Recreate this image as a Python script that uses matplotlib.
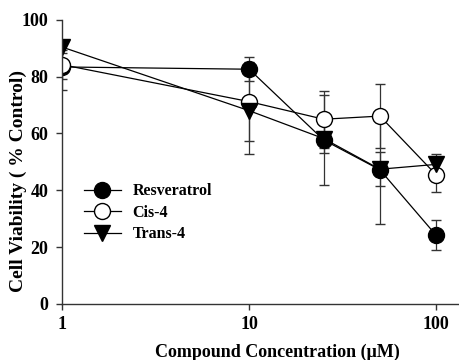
import numpy as np
import matplotlib
matplotlib.use("Agg")
import matplotlib.pyplot as plt
from matplotlib.lines import Line2D

# Concentrations (uM)
conc = [1, 10, 25, 50, 100]

# Cell viability (% control) and error bars
resveratrol = [83.4, 82.6, 57.7, 47.2, 24.1]
resveratrol_err = [8.0, 4.2, 16.0, 19.0, 5.3]
cis4 = [84.2, 71.2, 65.0, 66.1, 45.4]
cis4_err = [5.0, 14.0, 10.0, 11.4, 6.0]
trans4 = [90.4, 68.0, 58.2, 47.4, 49.1]
trans4_err = [2.0, 15.4, 5.0, 6.0, 3.5]

series_names = ["Resveratrol", "Cis-4", "Trans-4"]

plt.rcParams["font.family"] = ["Liberation Serif", "DejaVu Serif"]
plt.rcParams["font.weight"] = "bold"

fig = plt.figure(figsize=(4.6, 3.6), dpi=100)
ax = fig.add_axes([0.135, 0.156, 0.865, 0.789])

styles = [
    dict(marker="o", mfc="black", mec="black"),
    dict(marker="o", mfc="white", mec="black"),
    dict(marker="v", mfc="black", mec="black"),
]
data = [(resveratrol, resveratrol_err), (cis4, cis4_err), (trans4, trans4_err)]

for (vals, errs), st in zip(data, styles):
    ax.errorbar(conc, vals, yerr=errs, color="black", lw=0.9, ms=11.5,
                mew=1.0, capsize=3.5, elinewidth=0.9, ecolor="#333333",
                capthick=0.9, **st)

ax.set_xscale("log")
ax.set_xlim(1, 134)
ax.set_ylim(0, 100)
ax.set_xticks([1, 10, 100])
ax.set_xticklabels(["1", "10", "100"])
ax.xaxis.set_minor_locator(matplotlib.ticker.NullLocator())
ax.set_yticks([0, 20, 40, 60, 80, 100])

for side in ["top", "right"]:
    ax.spines[side].set_visible(False)
for side in ["left", "bottom"]:
    ax.spines[side].set_color("#333333")
    ax.spines[side].set_linewidth(1.0)
ax.tick_params(direction="out", length=4, width=1.0, color="#333333",
               labelsize=13, pad=6)
ax.tick_params(axis="x", pad=5)

ax.set_xlabel("Compound Concentration (\u03bcM)", fontsize=13, fontweight="bold")
ax.set_ylabel("Cell Viability ( % Control)", fontsize=14, fontweight="bold")
ax.xaxis.set_label_coords(0.54, -0.14)
ax.yaxis.set_label_coords(-0.087, 0.433)

handles = [Line2D([], [], color="black", lw=0.9, ms=11.5, mew=1.0, **st)
           for st in styles]
ax.legend(handles, series_names, loc="upper left", bbox_to_anchor=(0.055, 0.425),
          frameon=False, fontsize=11.5, handlelength=2.3, handletextpad=0.75,
          labelspacing=0.35, borderpad=0, borderaxespad=0)

fig.savefig("out.png", dpi=100)
